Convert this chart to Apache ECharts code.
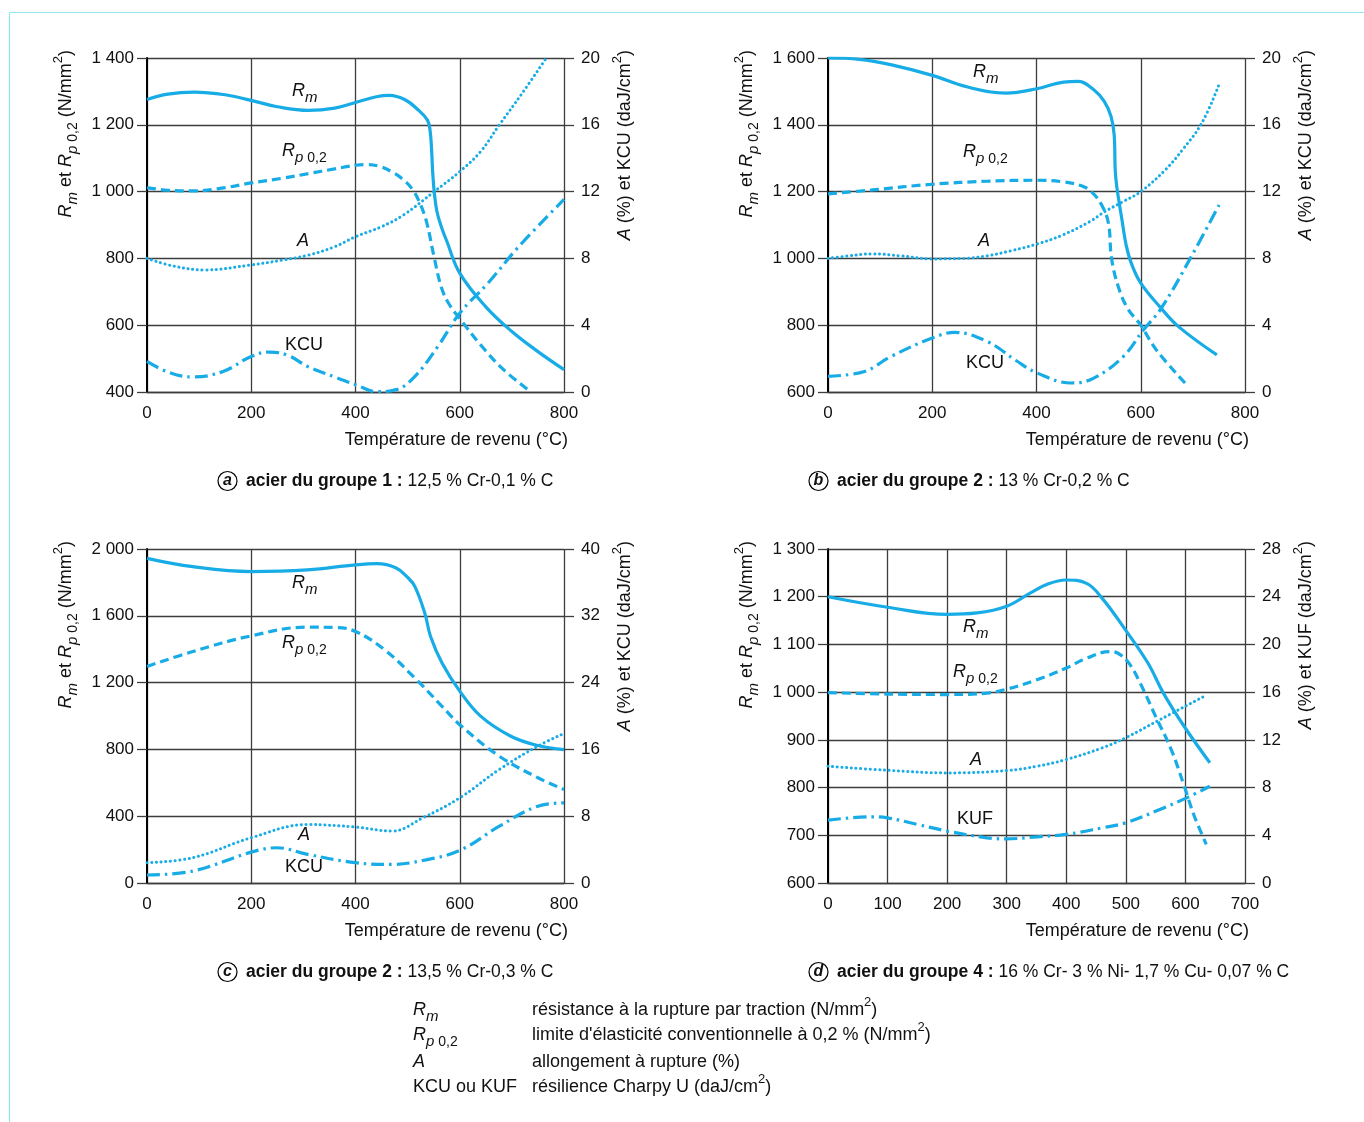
<!DOCTYPE html>
<html>
<head>
<meta charset="utf-8">
<title>Caractéristiques mécaniques après revenu</title>
<script src="https://cdn.jsdelivr.net/npm/echarts/dist/echarts.min.js"></script>
<style>
  html, body { margin: 0; padding: 0; background: #fff; }
  #chart { width: 1364px; height: 1122px; }
</style>
</head>
<body>
<div id="chart"></div>
<script>
// ---- Data: [température (°C), valeur] ----
// (a) acier du groupe 1
const aRm  = [[0,1276],[40,1292],[90,1298],[150,1290],[200,1273],[250,1254],[310,1243],[360,1250],[400,1267],[440,1284],[465,1288],[495,1275],[520,1245],[538,1214],[543,1184],[546,1124],[548,1060],[551,1000],[556,942],[565,893],[575,852],[600,756],[650,655],[700,581],[750,521],[800,467]];
const aRp  = [[0,1012],[40,1004],[90,1002],[150,1012],[200,1026],[260,1040],[310,1054],[360,1068],[400,1079],[420,1081],[445,1076],[470,1059],[490,1038],[510,1005],[525,960],[537,905],[550,810],[565,712],[580,662],[600,620],[640,541],[684,467],[735,402]];
const aA   = [[0,8.0],[50,7.55],[110,7.31],[200,7.61],[260,7.9],[310,8.2],[360,8.7],[400,9.3],[450,9.9],[492,10.6],[551,12.0],[600,13.2],[640,14.4],[676,16.0],[720,17.9],[766,20.0]];
const aKCU = [[0,1.83],[40,1.2],[88,0.9],[146,1.23],[200,2.13],[235,2.39],[270,2.2],[308,1.53],[360,0.9],[400,0.44],[441,0.02],[478,0.14],[514,0.94],[558,2.73],[600,4.72],[654,6.51],[713,8.7],[800,11.53]];

// (b) acier du groupe 2 (13 % Cr)
const bRm  = [[0,1600],[60,1596],[120,1580],[200,1548],[268,1513],[342,1495],[401,1508],[452,1528],[480,1530],[510,1505],[530,1470],[543,1425],[549,1370],[551,1265],[554,1215],[564,1115],[572,1040],[582,985],[600,926],[639,851],[673,795],[746,711]];
const bRp  = [[0,1193],[85,1205],[200,1222],[305,1231],[401,1234],[452,1229],[485,1218],[505,1200],[525,1160],[538,1105],[544,1000],[557,915],[575,850],[600,800],[630,726],[685,627]];
const bA   = [[0,8.0],[40,8.15],[85,8.27],[140,8.15],[200,7.97],[260,8.0],[305,8.15],[350,8.45],[401,8.86],[450,9.4],[502,10.2],[531,10.8],[566,11.4],[600,12.0],[647,13.3],[680,14.5],[717,16.1],[750,18.4]];
const bKCU = [[0,0.94],[70,1.23],[121,2.13],[200,3.23],[243,3.57],[305,3.03],[360,1.9],[401,1.14],[467,0.54],[509,0.82],[566,2.11],[605,3.71],[639,5.0],[695,8.0],[752,11.3]];

// (c) acier du groupe 2 (13,5 % Cr)
const cRm  = [[0,1944],[88,1894],[200,1865],[308,1875],[400,1905],[441,1912],[478,1886],[500,1830],[514,1775],[533,1615],[544,1476],[566,1318],[600,1149],[640,999],[698,879],[750,823],[800,799]];
const cRp  = [[0,1297],[88,1386],[200,1480],[308,1532],[360,1530],[400,1506],[456,1396],[514,1227],[566,1058],[600,948],[676,759],[750,630],[800,560]];
const cA   = [[0,2.43],[88,3.03],[200,5.42],[308,7.0],[400,6.7],[470,6.22],[529,7.8],[600,10.2],[676,13.6],[750,16.4],[800,17.9]];
const cKCU = [[0,0.96],[88,1.43],[200,3.7],[249,4.22],[308,3.43],[400,2.43],[470,2.23],[529,2.7],[600,3.9],[676,6.8],[750,9.2],[800,9.6]];

// (d) acier du groupe 4
const dRm  = [[0,1200],[100,1178],[200,1163],[250,1166],[300,1180],[340,1208],[370,1227],[399,1235],[434,1228],[460,1197],[499,1131],[537,1061],[563,998],[598,928],[641,852]];
const dRp  = [[0,999],[100,996],[200,995],[267,998],[299,1006],[351,1026],[399,1050],[434,1071],[473,1085],[486,1082],[505,1061],[524,1019],[550,949],[576,880],[598,803],[615,740],[635,681]];
const dA   = [[0,9.79],[100,9.45],[200,9.23],[299,9.42],[351,9.79],[399,10.34],[460,11.32],[499,12.16],[557,13.69],[631,15.64]];
const dKUF = [[0,5.27],[74,5.55],[100,5.46],[151,4.9],[200,4.35],[267,3.79],[299,3.7],[351,3.87],[399,4.07],[460,4.62],[499,5.04],[557,6.16],[602,7.14],[641,8.11]];

// ---- Axis scales (left: Rm/Rp, right: A/KCU) ----
const xMaxs   = [800, 800, 800, 700];
const xSteps  = [200, 200, 200, 100];
const yMins   = [400, 600, 0, 600];
const yMaxs   = [1400, 1600, 2000, 1300];
const ySteps  = [200, 200, 400, 100];
const rMaxs   = [20, 20, 40, 28];
const rSteps  = [4, 4, 8, 4];
const impactNames = ['KCU', 'KCU', 'KCU', 'KUF'];
const subtitleLetters = ['a', 'b', 'c', 'd'];
const subtitleBold = ['acier du groupe 1 :', 'acier du groupe 2 :', 'acier du groupe 2 :', 'acier du groupe 4 :'];
const subtitleText = ['12,5 % Cr-0,1 % C', '13 % Cr-0,2 % C', '13,5 % Cr-0,3 % C', '16 % Cr- 3 % Ni- 1,7 % Cu- 0,07 % C'];

const curves = [
  { rm: aRm, rp: aRp, a: aA, k: aKCU },
  { rm: bRm, rp: bRp, a: bA, k: bKCU },
  { rm: cRm, rp: cRp, a: cA, k: cKCU },
  { rm: dRm, rp: dRp, a: dA, k: dKUF }
];

// ---- Layout ----
const FONT = '"Liberation Sans", Arial, Helvetica, sans-serif';
const CYAN = '#17ACE6';
const GRID = '#3d3d3d';
const boxes = [
  { left: 147, top: 58, sub: 218 },
  { left: 828, top: 58, sub: 809 },
  { left: 147, top: 549, sub: 218 },
  { left: 828, top: 549, sub: 809 }
];
const PW = 417, PH = 334;

const RICH = {
  i:   { fontFamily: FONT, fontSize: 18, fontStyle: 'italic', lineHeight: 28 },
  n:   { fontFamily: FONT, fontSize: 18, lineHeight: 28 },
  s:   { fontFamily: FONT, fontSize: 15, fontStyle: 'italic', lineHeight: 13, verticalAlign: 'bottom' },
  sr:  { fontFamily: FONT, fontSize: 14, lineHeight: 13, verticalAlign: 'bottom' },
  sup: { fontFamily: FONT, fontSize: 13, lineHeight: 13, verticalAlign: 'top' },
  b:   { fontFamily: FONT, fontSize: 17.5, fontWeight: 'bold', lineHeight: 28 },
  r:   { fontFamily: FONT, fontSize: 17.5, lineHeight: 28 },
  gap: { fontFamily: FONT, fontSize: 10, width: 9, lineHeight: 28 },
  c:   { fontFamily: FONT, fontSize: 16, fontWeight: 'bold', fontStyle: 'italic', width: 19, height: 19, lineHeight: 19,
         align: 'center', borderColor: '#000', borderWidth: 1.2, borderRadius: 10 }
};

function txt(x, y, text, extra) {
  return Object.assign({
    type: 'text', x: x, y: y, silent: true,
    style: Object.assign({
      text: text, rich: RICH, fill: '#111', fontFamily: FONT, fontSize: 18,
      align: 'left', verticalAlign: 'middle'
    }, (extra && extra.style) || {})
  }, extra && extra.rotation !== undefined ? { rotation: extra.rotation } : {});
}

function spaced(v) {
  return v >= 1000 ? String(v).replace(/(\d)(\d{3})$/, '$1 $2') : String(v);
}

const grid = [], xAxis = [], yAxis = [], series = [], graphic = [];

boxes.forEach(function (b, p) {
  grid.push({ left: b.left, top: b.top, width: PW, height: PH });
  xAxis.push({
    type: 'value', gridIndex: p, min: 0, max: xMaxs[p], interval: xSteps[p],
    axisLine: { show: true, lineStyle: { color: GRID, width: 1.3 } },
    axisTick: { show: false },
    axisLabel: { margin: 13, fontSize: 17, color: '#111', fontFamily: FONT },
    splitLine: { show: true, lineStyle: { color: GRID, width: 1.3 } }
  });
  yAxis.push({
    type: 'value', gridIndex: p, position: 'left', min: yMins[p], max: yMaxs[p], interval: ySteps[p],
    axisLine: { show: true, lineStyle: { color: '#000', width: 2 } },
    axisTick: { show: true, length: 10, lineStyle: { color: GRID, width: 1.3 } },
    axisLabel: { margin: 13, fontSize: 17, color: '#111', fontFamily: FONT, formatter: spaced },
    splitLine: { show: true, lineStyle: { color: GRID, width: 1.3 } }
  });
  yAxis.push({
    type: 'value', gridIndex: p, position: 'right', min: 0, max: rMaxs[p], interval: rSteps[p],
    axisLine: { show: false },
    axisTick: { show: true, length: 10, lineStyle: { color: GRID, width: 1.3 } },
    axisLabel: { margin: 17, fontSize: 17, color: '#111', fontFamily: FONT },
    splitLine: { show: false }
  });

  const c = curves[p];
  const base = { type: 'line', xAxisIndex: p, symbol: 'none', smooth: 0.4, silent: true, z: 3 };
  series.push(Object.assign({}, base, { name: 'Rm', yAxisIndex: 2 * p, data: c.rm,
    lineStyle: { color: CYAN, width: 3.2 } }));
  series.push(Object.assign({}, base, { name: 'Rp0,2', yAxisIndex: 2 * p, data: c.rp,
    lineStyle: { color: CYAN, width: 3.2, type: [9, 5] } }));
  series.push(Object.assign({}, base, { name: 'A', yAxisIndex: 2 * p + 1, data: c.a,
    lineStyle: { color: CYAN, width: 3, type: [0.1, 4.6], cap: 'round' } }));
  series.push(Object.assign({}, base, { name: impactNames[p], yAxisIndex: 2 * p + 1, data: c.k,
    lineStyle: { color: CYAN, width: 3.2, type: [13, 5, 2.5, 5] } }));

  // axis titles
  graphic.push(txt(b.left - 81, b.top - 8,
    '{i|R}{s|m}{n| et }{i|R}{s|p}{sr| 0,2}{n| (N/mm}{sup|2}{n|)}',
    { rotation: Math.PI / 2, style: { align: 'right' } }));
  graphic.push(txt(b.left + PW + 61, b.top - 8,
    '{i|A}{n| (%) et ' + impactNames[p] + ' (daJ/cm}{sup|2}{n|)}',
    { rotation: Math.PI / 2, style: { align: 'right' } }));
  graphic.push(txt(b.left + PW + 4, b.top + PH + 48, '{n|Température de revenu (°C)}', { style: { align: 'right' } }));

  // subtitle
  graphic.push(txt(b.sub, b.top + PH + 89,
    '{c|' + subtitleLetters[p] + '}{gap| }{b|' + subtitleBold[p] + '}{r| ' + subtitleText[p] + '}'));
});

// curve labels
const curveLabels = [
  [292, 91, '{i|R}{s|m}'], [282, 151, '{i|R}{s|p}{sr| 0,2}'], [297, 241, '{i|A}'], [285, 345, '{n|KCU}'],
  [973, 72, '{i|R}{s|m}'], [963, 152, '{i|R}{s|p}{sr| 0,2}'], [978, 241, '{i|A}'], [966, 363, '{n|KCU}'],
  [292, 583, '{i|R}{s|m}'], [282, 643, '{i|R}{s|p}{sr| 0,2}'], [298, 835, '{i|A}'], [285, 867, '{n|KCU}'],
  [963, 627, '{i|R}{s|m}'], [953, 672, '{i|R}{s|p}{sr| 0,2}'], [970, 760, '{i|A}'], [957, 819, '{n|KUF}']
];
curveLabels.forEach(function (l) { graphic.push(txt(l[0], l[1], l[2])); });

// key
const keyLeft = ['{i|R}{s|m}', '{i|R}{s|p}{sr| 0,2}', '{i|A}', '{n|KCU ou KUF}'];
const keyRight = [
  '{n|résistance à la rupture par traction (N/mm}{sup|2}{n|)}',
  "{n|limite d'élasticité conventionnelle à 0,2 % (N/mm}{sup|2}{n|)}",
  '{n|allongement à rupture (%)}',
  '{n|résilience Charpy U (daJ/cm}{sup|2}{n|)}'
];
const keyRows = [1010, 1035, 1062, 1087];
keyRows.forEach(function (y, r) {
  graphic.push(txt(413, y, keyLeft[r]));
  graphic.push(txt(532, y, keyRight[r]));
});

// outer frame
graphic.push({ type: 'line', silent: true, shape: { x1: 9.5, y1: 12.5, x2: 1364, y2: 12.5 }, style: { stroke: '#8fe6ec', lineWidth: 1.2 } });
graphic.push({ type: 'line', silent: true, shape: { x1: 9.5, y1: 12.5, x2: 9.5, y2: 1122 }, style: { stroke: '#8fe6ec', lineWidth: 1.2 } });

const chart = echarts.init(document.getElementById('chart'), null, { renderer: 'canvas' });
chart.setOption({
  backgroundColor: '#ffffff',
  animation: false,
  textStyle: { fontFamily: FONT },
  grid: grid,
  xAxis: xAxis,
  yAxis: yAxis,
  series: series,
  graphic: graphic
});
</script>
</body>
</html>
